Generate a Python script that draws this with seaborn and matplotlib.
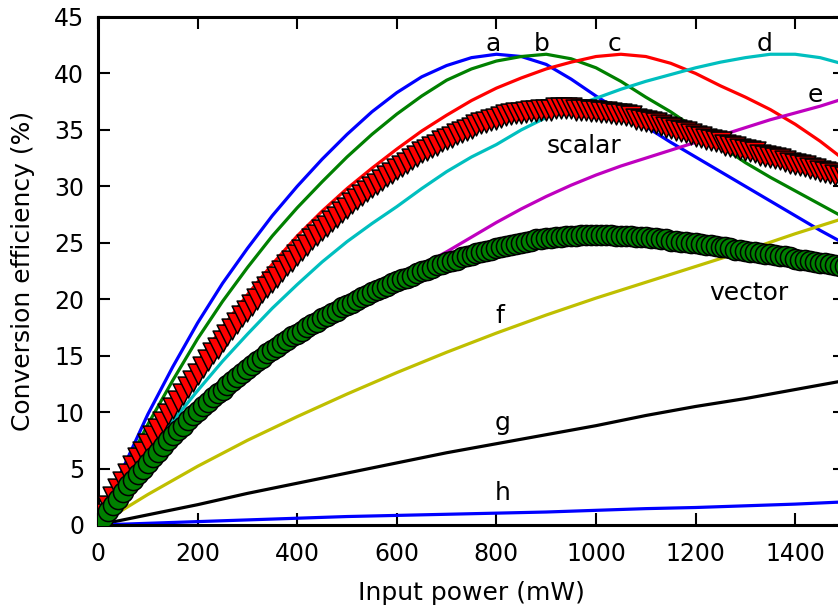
import matplotlib
matplotlib.use("Agg")
import matplotlib.pyplot as plt
import seaborn as sns

# input power grids (mW)
power_50 = list(range(0, 1501, 50))
power_100 = list(range(0, 1501, 100))
power_10 = list(range(0, 1501, 10))

# conversion efficiency (%), curves a-e every 50 mW
eff_a = [0.0, 5.0, 9.8, 14.0, 17.9, 21.4, 24.5, 27.4, 30.0, 32.4, 34.6, 36.6, 38.3, 39.7, 40.7, 41.4,
         41.7, 41.5, 40.8, 39.5, 38.0, 36.6, 35.3, 33.9, 32.6, 31.3, 30.0, 28.7, 27.4, 26.1, 24.9]
eff_b = [0.0, 4.6, 8.9, 12.8, 16.5, 19.8, 22.8, 25.6, 28.1, 30.4, 32.6, 34.6, 36.4, 38.0, 39.4, 40.4,
         41.1, 41.5, 41.7, 41.3, 40.5, 39.3, 37.9, 36.6, 35.1, 33.6, 32.1, 30.8, 29.6, 28.4, 27.2]
eff_c = [0.0, 3.9, 7.6, 11.1, 14.4, 17.5, 20.4, 23.1, 25.6, 27.8, 29.8, 31.6, 33.3, 34.9, 36.3, 37.6,
         38.7, 39.6, 40.4, 41.0, 41.5, 41.7, 41.5, 40.9, 40.0, 38.9, 37.9, 36.8, 35.5, 34.0, 32.3]
eff_d = [0.0, 3.2, 6.3, 9.2, 11.9, 14.5, 16.9, 19.2, 21.3, 23.3, 25.1, 26.7, 28.2, 29.8, 31.3, 32.6,
         33.7, 35.0, 36.1, 37.0, 37.8, 38.6, 39.3, 39.9, 40.5, 41.0, 41.4, 41.7, 41.7, 41.4, 40.8]
eff_e = [0.0, 2.4, 4.8, 7.1, 9.2, 11.2, 13.0, 14.7, 16.3, 17.8, 19.2, 20.5, 21.8, 23.0, 24.2, 25.5,
         26.8, 28.0, 29.1, 30.1, 31.0, 31.8, 32.5, 33.2, 33.9, 34.5, 35.2, 35.9, 36.5, 37.1, 37.8]
# curves f-h every 100 mW
eff_f = [0.0, 2.7, 5.2, 7.5, 9.6, 11.6, 13.5, 15.3, 17.0, 18.6, 20.1, 21.5, 22.9, 24.3, 25.8, 27.2]
eff_g = [0.0, 0.9, 1.8, 2.8, 3.7, 4.6, 5.5, 6.4, 7.2, 8.0, 8.8, 9.7, 10.5, 11.2, 12.0, 12.8]
eff_h = [0.0, 0.15, 0.3, 0.45, 0.6, 0.75, 0.85, 0.95, 1.05, 1.15, 1.3, 1.45, 1.55, 1.7, 1.85, 2.05]

# measured points every 10 mW
eff_scalar = [0.3, 1.0, 1.7, 2.5, 3.2, 3.8, 4.5, 5.2, 5.9, 6.5,
              7.2, 7.9, 8.5, 9.1, 9.8, 10.4, 11.0, 11.6, 12.2, 12.8,
              13.4, 14.0, 14.6, 15.2, 15.7, 16.3, 16.8, 17.4, 17.9, 18.5,
              19.0, 19.5, 20.0, 20.6, 21.1, 21.5, 22.0, 22.5, 23.0, 23.4,
              23.9, 24.4, 24.8, 25.3, 25.7, 26.1, 26.5, 26.9, 27.3, 27.7,
              28.1, 28.5, 28.9, 29.2, 29.6, 29.9, 30.2, 30.6, 30.9, 31.2,
              31.5, 31.8, 32.1, 32.4, 32.7, 33.0, 33.2, 33.5, 33.7, 34.0,
              34.2, 34.4, 34.6, 34.8, 35.0, 35.2, 35.4, 35.6, 35.7, 35.9,
              36.0, 36.1, 36.3, 36.4, 36.5, 36.5, 36.6, 36.7, 36.7, 36.8,
              36.8, 36.8, 36.9, 36.9, 36.9, 36.9, 36.8, 36.8, 36.8, 36.7,
              36.7, 36.6, 36.6, 36.5, 36.4, 36.4, 36.3, 36.2, 36.0, 35.9,
              35.8, 35.7, 35.6, 35.4, 35.3, 35.2, 35.0, 34.9, 34.8, 34.6,
              34.5, 34.4, 34.2, 34.1, 34.0, 33.9, 33.7, 33.6, 33.5, 33.3,
              33.2, 33.1, 33.0, 32.8, 32.7, 32.6, 32.5, 32.4, 32.2, 32.1,
              32.0, 31.9, 31.8, 31.6, 31.5, 31.4, 31.3, 31.2, 31.0, 30.9,
              30.8]
eff_vector = [0.0, 0.6, 1.2, 1.8, 2.3, 2.9, 3.5, 4.0, 4.5, 5.0,
              5.5, 6.0, 6.5, 7.0, 7.5, 8.0, 8.4, 8.8, 9.3, 9.7,
              10.1, 10.5, 10.9, 11.3, 11.7, 12.0, 12.4, 12.8, 13.1, 13.5,
              13.8, 14.2, 14.5, 14.8, 15.2, 15.5, 15.8, 16.1, 16.4, 16.7,
              16.9, 17.2, 17.5, 17.8, 18.0, 18.3, 18.5, 18.8, 19.0, 19.3,
              19.5, 19.7, 19.9, 20.2, 20.4, 20.6, 20.8, 21.0, 21.2, 21.4,
              21.6, 21.8, 21.9, 22.1, 22.3, 22.5, 22.6, 22.8, 23.0, 23.1,
              23.3, 23.4, 23.5, 23.7, 23.8, 23.9, 24.1, 24.2, 24.3, 24.4,
              24.5, 24.6, 24.7, 24.8, 24.9, 25.0, 25.1, 25.2, 25.3, 25.3,
              25.4, 25.4, 25.5, 25.5, 25.6, 25.6, 25.6, 25.7, 25.7, 25.7,
              25.7, 25.7, 25.7, 25.7, 25.6, 25.6, 25.6, 25.6, 25.5, 25.5,
              25.5, 25.4, 25.4, 25.3, 25.3, 25.2, 25.2, 25.1, 25.1, 25.0,
              25.0, 24.9, 24.8, 24.8, 24.7, 24.6, 24.6, 24.5, 24.4, 24.4,
              24.3, 24.2, 24.2, 24.1, 24.0, 24.0, 23.9, 23.8, 23.8, 23.7,
              23.6, 23.5, 23.5, 23.4, 23.3, 23.2, 23.2, 23.1, 23.0, 22.9,
              22.9]

sns.set_style("ticks")
plt.rcParams["font.family"] = ["DejaVu Sans"]
for key in ["text.color", "axes.labelcolor", "xtick.color", "ytick.color", "axes.edgecolor"]:
    plt.rcParams[key] = "black"

fig = plt.figure(figsize=(8.38, 6.13), dpi=100)
ax = fig.add_axes([98 / 838, 88 / 613, 747 / 838, 508 / 613])

lines = [(power_50, eff_a, "#0000ff"), (power_50, eff_b, "#008000"), (power_50, eff_c, "#ff0000"),
         (power_50, eff_d, "#00bfbf"), (power_50, eff_e, "#bf00bf"), (power_100, eff_f, "#bfbf00"),
         (power_100, eff_g, "#000000"), (power_100, eff_h, "#0000ff")]
for xs, ys, col in lines:
    sns.lineplot(x=xs, y=ys, color=col, linewidth=2.3, ax=ax)

sns.scatterplot(x=power_10, y=eff_scalar, marker="v", s=15 ** 2, color="#ff0000",
                edgecolor="black", linewidth=1.1, zorder=3, ax=ax)
sns.scatterplot(x=power_10, y=eff_vector, marker="o", s=14.5 ** 2, color="#008000",
                edgecolor="black", linewidth=1.1, zorder=4, ax=ax)

labels = {"a": (793, 41.95), "b": (890, 41.95), "c": (1038, 41.95), "d": (1338, 41.95),
          "e": (1440, 37.5), "f": (807, 17.9), "g": (813, 8.4), "h": (813, 2.2),
          "scalar": (976, 32.95), "vector": (1306, 19.9)}
for txt, (lx, ly) in labels.items():
    ax.text(lx, ly, txt, ha="center", va="baseline", fontsize=18, zorder=6)

ax.set_xlim(0, 1500)
ax.set_ylim(0, 45)
ax.set_xticks(range(0, 1401, 200))
ax.set_yticks(range(0, 46, 5))
ax.tick_params(direction="in", length=8.5, width=1.5, top=True, right=True, labelsize=17)
ax.tick_params(axis="x", pad=12)
ax.tick_params(axis="y", pad=10)
for sp in ax.spines.values():
    sp.set_linewidth(2.2)

ax.set_xlabel("Input power (mW)", fontsize=18)
ax.set_ylabel("Conversion efficiency (%)", fontsize=18)
ax.xaxis.set_label_coords(0.5, -0.11)
ax.yaxis.set_label_coords(-0.084, 0.5)

fig.savefig("out.png", dpi=100)
